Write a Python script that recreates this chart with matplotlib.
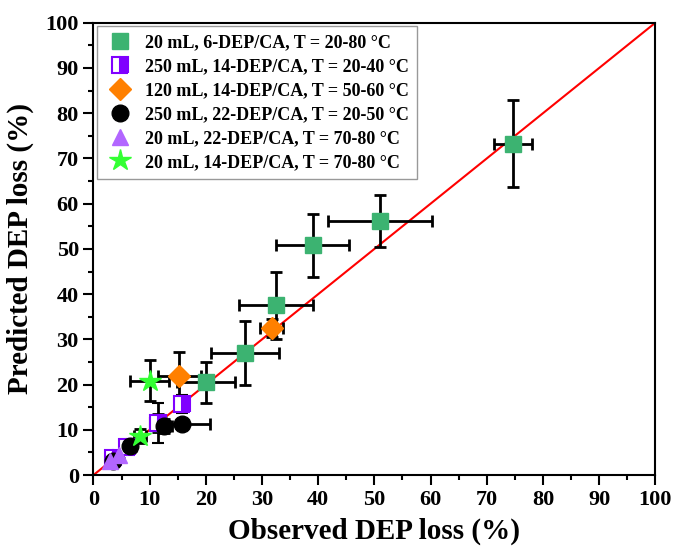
import numpy as np
import matplotlib.pyplot as plt
from matplotlib.lines import Line2D
from matplotlib.ticker import MultipleLocator

plt.rcParams['font.family'] = ['Liberation Serif', 'DejaVu Serif']
plt.rcParams['font.weight'] = 'bold'

# 20 mL, 6-DEP/CA, T = 20-80 C
sq_x = [74.7, 51.0, 39.0, 32.5, 27.0, 20.0, 11.5]
sq_y = [73.3, 56.2, 50.8, 37.5, 27.0, 20.5, 11.5]
sq_xerr = [3.4, 9.3, 6.5, 6.6, 6.0, 5.2, 1.5]
sq_yerr = [9.6, 5.8, 6.9, 7.5, 7.0, 4.6, 2.0]

# 250 mL, 14-DEP/CA, T = 20-40 C
hs_x = [15.8, 11.5, 6.0, 3.5]
hs_y = [15.8, 11.5, 6.2, 3.8]
hs_xerr = [1.0, 1.5, 1.0, 0.8]
hs_yerr = [2.0, 4.5, 1.5, 1.0]

# 120 mL, 14-DEP/CA, T = 50-60 C
di_x = [15.3, 31.7]
di_y = [22.0, 32.5]
di_xerr = [3.8, 2.0]
di_yerr = [5.3, 2.0]

# 250 mL, 22-DEP/CA, T = 20-50 C
ci_x = [15.8, 12.5, 6.5, 3.5]
ci_y = [11.2, 10.8, 6.5, 3.2]
ci_xerr = [5.0, 1.5, 1.0, 0.8]
ci_yerr = [1.0, 1.5, 1.5, 1.0]

# 20 mL, 22-DEP/CA, T = 70-80 C
tr_x = [3.0, 4.5]
tr_y = [3.2, 4.5]
tr_xerr = [0.8, 0.8]
tr_yerr = [0.8, 0.8]

# 20 mL, 14-DEP/CA, T = 70-80 C
st_x = [10.0, 8.3]
st_y = [20.9, 8.6]
st_xerr = [3.5, 1.0]
st_yerr = [4.6, 1.5]

labels = ['20 mL, 6-DEP/CA, T = 20-80 °C',
          '250 mL, 14-DEP/CA, T = 20-40 °C',
          '120 mL, 14-DEP/CA, T = 50-60 °C',
          '250 mL, 22-DEP/CA, T = 20-50 °C',
          '20 mL, 22-DEP/CA, T = 70-80 °C',
          '20 mL, 14-DEP/CA, T = 70-80 °C']

styles = [
    dict(marker='s', ms=12, mfc='#3CB371', mec='#3CB371'),
    dict(marker='s', ms=12, fillstyle='right', mfc='#8000FF', mfcalt='white', mec='#8000FF', mew=1.5),
    dict(marker='D', ms=11, mfc='#FF8000', mec='#FF8000'),
    dict(marker='o', ms=12, mfc='black', mec='black'),
    dict(marker='^', ms=12, mfc='#B266FF', mec='#B266FF'),
    dict(marker='*', ms=16, mfc='#33FF33', mec='#33FF33'),
]
series = [(sq_x, sq_y, sq_xerr, sq_yerr), (hs_x, hs_y, hs_xerr, hs_yerr),
          (di_x, di_y, di_xerr, di_yerr), (ci_x, ci_y, ci_xerr, ci_yerr),
          (tr_x, tr_y, tr_xerr, tr_yerr), (st_x, st_y, st_xerr, st_yerr)]

fig = plt.figure(figsize=(6.77, 5.55), dpi=100)
ax = fig.add_axes([0.138, 0.144, 0.830, 0.815])

ax.plot([0, 100], [0, 100], color='red', lw=1.5, zorder=1)

handles = []
for (x, y, xe, ye), st, lab in zip(series, styles, labels):
    ax.errorbar(x, y, xerr=xe, yerr=ye, ecolor='black', elinewidth=2, capsize=4,
                capthick=2, linestyle='none', zorder=3, **st)
    handles.append(Line2D([], [], linestyle='none', label=lab, **st))

ax.set_xlim(0, 100)
ax.set_ylim(0, 100)
ax.xaxis.set_major_locator(MultipleLocator(10))
ax.yaxis.set_major_locator(MultipleLocator(10))
ax.xaxis.set_minor_locator(MultipleLocator(5))
ax.yaxis.set_minor_locator(MultipleLocator(5))
ax.tick_params(which='major', direction='out', length=7, width=1.5, labelsize=16)
ax.tick_params(which='minor', direction='out', length=3.5, width=1.5)
for s in ax.spines.values():
    s.set_linewidth(1.5)

ax.set_xlabel('Observed DEP loss (%)', fontsize=21, fontweight='bold', labelpad=6)
ax.set_ylabel('Predicted DEP loss (%)', fontsize=21, fontweight='bold', labelpad=8)

leg = ax.legend(handles=handles, loc='upper left', fontsize=13, frameon=True, fancybox=False,
                edgecolor='gray', borderaxespad=0.2, handletextpad=0.6, handlelength=1.6,
                labelspacing=0.38, borderpad=0.45)
for t in leg.get_texts():
    t.set_fontweight('bold')

fig.savefig('out.png', dpi=100)
